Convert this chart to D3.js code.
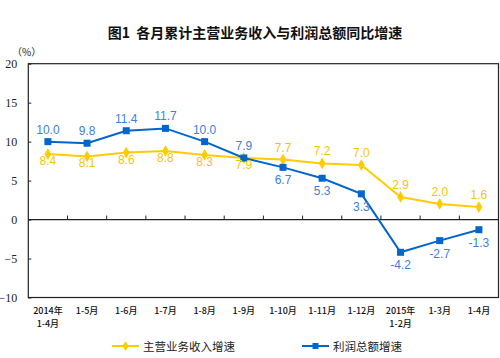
<!DOCTYPE html>
<html><head><meta charset="utf-8">
<script src="https://cdn.jsdelivr.net/npm/d3@7"></script>
<style>body{margin:0;background:#fff;}svg{display:block;}</style>
</head><body>
<svg id="c" width="500" height="358"></svg>
<script>
const categories = [["2014年","1-4月"],["1-5月"],["1-6月"],["1-7月"],["1-8月"],["1-9月"],["1-10月"],["1-11月"],["1-12月"],["2015年","1-2月"],["1-3月"],["1-4月"]];
const revenueGrowth = [8.4,8.1,8.6,8.8,8.3,7.9,7.7,7.2,7.0,2.9,2.0,1.6];
const profitGrowth = [10.0,9.8,11.4,11.7,10.0,7.9,6.7,5.3,3.3,-4.2,-2.7,-1.3];
const yTicks = [-10,-5,0,5,10,15,20];
const seriesNames = ["主营业务收入增速","利润总额增速"];
const title = "图1\u00a0\u00a0各月累计主营业务收入与利润总额同比增速";

const svg = d3.select("#c");
const L=28.3, R=498.5, T=63.7, B=297.5;
const YEL="#FFCC00", BLU="#0066CC", YELT="#F7C600", BLUT="#3F80DA";

const x = d3.scaleBand().domain(d3.range(categories.length)).range([L,R]);
const y = d3.scaleLinear().domain([-10,20]).range([B,T]);

svg.append("text").attr("x",255).attr("y",38).attr("text-anchor","middle")
  .attr("font-family","Noto Sans CJK SC").attr("font-weight","bold").attr("font-size",14)
  .attr("fill","#111").text(title);
svg.append("text").attr("x",12).attr("y",56)
  .attr("font-family","Noto Sans CJK SC").attr("font-size",10).attr("fill","#222").text("（%）");

// frame
svg.append("rect").attr("x",L).attr("y",T).attr("width",R-L).attr("height",B-T)
  .attr("fill","none").attr("stroke","#222").attr("stroke-width",1.2);

// y axis
const yAxis = d3.axisLeft(y).tickValues(yTicks).tickSize(-3).tickPadding(11).tickFormat(d3.format("d"));
const ya = svg.append("g").attr("transform",`translate(${L},0)`).call(yAxis);
ya.select(".domain").remove();
ya.selectAll("line").attr("stroke","#222");
ya.selectAll("text").attr("font-family","Liberation Serif").attr("font-size",12).attr("fill","#222");

// zero line with upward ticks at category boundaries
svg.append("line").attr("x1",L).attr("x2",R).attr("y1",y(0)).attr("y2",y(0)).attr("stroke","#222").attr("stroke-width",1.2);
svg.append("g").selectAll("line").data(d3.range(1,categories.length)).join("line")
  .attr("x1",i=>x(i)).attr("x2",i=>x(i)).attr("y1",y(0)).attr("y2",y(0)-4).attr("stroke","#222");

// x labels
const xl = svg.append("g").selectAll("text").data(categories).join("text")
  .attr("x",(d,i)=>x(i)+x.bandwidth()/2).attr("y",314)
  .attr("text-anchor","middle").attr("font-family","Noto Sans CJK SC").attr("font-size",9)
  .attr("font-weight","500").attr("fill","#111");
xl.each(function(d){
  const t=d3.select(this);
  d.forEach((s,k)=>t.append("tspan").attr("x",t.attr("x")).attr("dy",k?13:0).text(s));
});

const cx = i=>x(i)+x.bandwidth()/2;
const line = d3.line().x((d,i)=>cx(i)).y(d=>y(d));

// revenue (yellow)
svg.append("path").datum(revenueGrowth).attr("d",line).attr("fill","none").attr("stroke",YEL).attr("stroke-width",2);
svg.append("g").selectAll("path").data(revenueGrowth).join("path")
  .attr("d",d3.symbol(d3.symbolDiamond,40)).attr("transform",(d,i)=>`translate(${cx(i)},${y(d)})`).attr("fill",YEL);
// profit (blue)
svg.append("path").datum(profitGrowth).attr("d",line).attr("fill","none").attr("stroke",BLU).attr("stroke-width",2);
svg.append("g").selectAll("rect").data(profitGrowth).join("rect")
  .attr("x",(d,i)=>cx(i)-3.5).attr("y",d=>y(d)-3.5).attr("width",7).attr("height",7).attr("fill",BLU);

// labels
svg.append("g").selectAll("text").data(revenueGrowth).join("text")
  .attr("x",(d,i)=>cx(i)).attr("y",(d,i)=>i<6? y(d)+11 : y(d)-8)
  .attr("text-anchor","middle").attr("font-family","Liberation Sans").attr("font-size",12).attr("fill",YELT)
  .text(d=>d.toFixed(1));
svg.append("g").selectAll("text").data(profitGrowth).join("text")
  .attr("x",(d,i)=>cx(i)).attr("y",(d,i)=>i<6? y(d)-8 : y(d)+17)
  .attr("text-anchor","middle").attr("font-family","Liberation Sans").attr("font-size",12).attr("fill",BLUT)
  .text(d=>d.toFixed(1));

// legend
const leg = [{x:112,c:YEL,n:seriesNames[0],m:"d"},{x:302,c:BLU,n:seriesNames[1],m:"s"}];
const lg = svg.append("g").selectAll("g").data(leg).join("g").attr("transform",d=>`translate(${d.x},346)`);
lg.append("line").attr("x1",0).attr("x2",27).attr("stroke",d=>d.c).attr("stroke-width",2);
lg.filter(d=>d.m==="d").append("path").attr("d",d3.symbol(d3.symbolDiamond,30)).attr("transform","translate(13.5,0)").attr("fill",YEL);
lg.filter(d=>d.m==="s").append("rect").attr("x",10.5).attr("y",-3).attr("width",6).attr("height",6).attr("fill",BLU);
lg.append("text").attr("x",31).attr("y",4.5).attr("font-family","Noto Sans CJK SC").attr("font-size",11.5).attr("fill","#222").text(d=>d.n);
</script>
</body></html>
